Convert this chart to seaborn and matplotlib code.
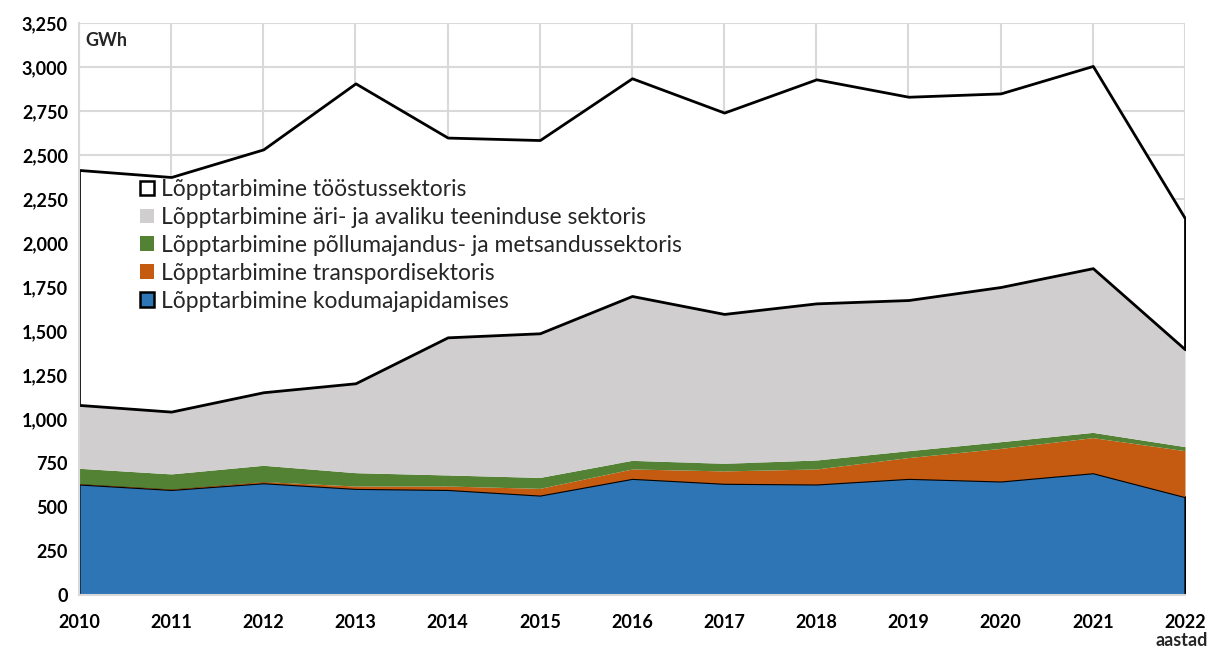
import matplotlib
matplotlib.use("Agg")
import matplotlib.pyplot as plt
from matplotlib.patches import Patch
from matplotlib.ticker import FuncFormatter, MultipleLocator
import seaborn as sns
import numpy as np

years = [2010, 2011, 2012, 2013, 2014, 2015, 2016, 2017, 2018, 2019, 2020, 2021, 2022]
households = [631, 600, 638, 606, 600, 568, 663, 635, 631, 663, 648, 695, 559]
transport = [2, 3, 6, 13, 19, 38, 53, 70, 85, 118, 185, 199, 261]
agriculture = [87, 85, 93, 76, 63, 62, 49, 43, 51, 39, 38, 30, 23]
services = [360, 354, 415, 508, 782, 819, 934, 849, 890, 856, 879, 933, 553]
industry = [1335, 1333, 1380, 1704, 1135, 1098, 1237, 1144, 1273, 1155, 1100, 1149, 744]

labels = [
    "Lõpptarbimine kodumajapidamises",
    "Lõpptarbimine transpordisektoris",
    "Lõpptarbimine põllumajandus- ja metsandussektoris",
    "Lõpptarbimine äri- ja avaliku teeninduse sektoris",
    "Lõpptarbimine tööstussektoris",
]
colors = ["#2E75B6", "#C55A11", "#548235", "#D0CECE", "#FFFFFF"]

sns.set_theme(style="whitegrid")
plt.rcParams["font.family"] = ["Lato", "DejaVu Sans"]

fig = plt.figure(figsize=(12.08, 6.5), dpi=100)
ax = fig.add_axes([79 / 1208, 55 / 650, (1185 - 79) / 1208, (595 - 23) / 650])
ax.set_facecolor("white")

polys = ax.stackplot(years, households, transport, agriculture, services, industry,
                     colors=colors, linewidth=0, zorder=2)
polys[0].set_edgecolor("black")
polys[0].set_linewidth(1.6)
polys[4].set_edgecolor("black")
polys[4].set_linewidth(2.0)

ax.set_xlim(2010, 2022)
ax.set_ylim(0, 3250)
ax.yaxis.set_major_locator(MultipleLocator(250))
ax.xaxis.set_major_locator(MultipleLocator(1))
ax.yaxis.set_major_formatter(FuncFormatter(lambda v, p: f"{int(v):,}"))
ax.grid(True, color="#D9D9D9", linewidth=1.5)
ax.set_axisbelow(True)
for side in ["top", "right"]:
    ax.spines[side].set_visible(False)
for side in ["left", "bottom"]:
    ax.spines[side].set_color("#D9D9D9")
    ax.spines[side].set_linewidth(1.5)
    ax.spines[side].set_zorder(5)

ax.tick_params(axis="both", length=0, labelsize=13, colors="black")
ax.tick_params(axis="x", pad=14)
ax.tick_params(axis="y", pad=8)
for t in ax.get_xticklabels() + ax.get_yticklabels():
    t.set_fontweight("bold")

ax.text(0.006, 0.985, "GWh", transform=ax.transAxes, ha="left", va="top",
        fontsize=13, fontweight="bold")
fig.text(1182 / 1208, 1 - 640 / 650, "aastad", ha="center", va="center",
         fontsize=13, fontweight="bold")

handles = [
    Patch(facecolor=colors[4], edgecolor="black", linewidth=1.8, label=labels[4]),
    Patch(facecolor=colors[3], edgecolor="none", label=labels[3]),
    Patch(facecolor=colors[2], edgecolor="none", label=labels[2]),
    Patch(facecolor=colors[1], edgecolor="none", label=labels[1]),
    Patch(facecolor=colors[0], edgecolor="black", linewidth=1.8, label=labels[0]),
]
leg = ax.legend(handles=handles, loc="upper left",
                bbox_to_anchor=((140 - 79) / 1106, (595 - 179) / 572),
                frameon=False, fontsize=16.5, handlelength=0.6, handleheight=0.6,
                handletextpad=0.3, labelspacing=0.3, borderaxespad=0, borderpad=0)

fig.savefig("out.png", dpi=100, facecolor="white")
